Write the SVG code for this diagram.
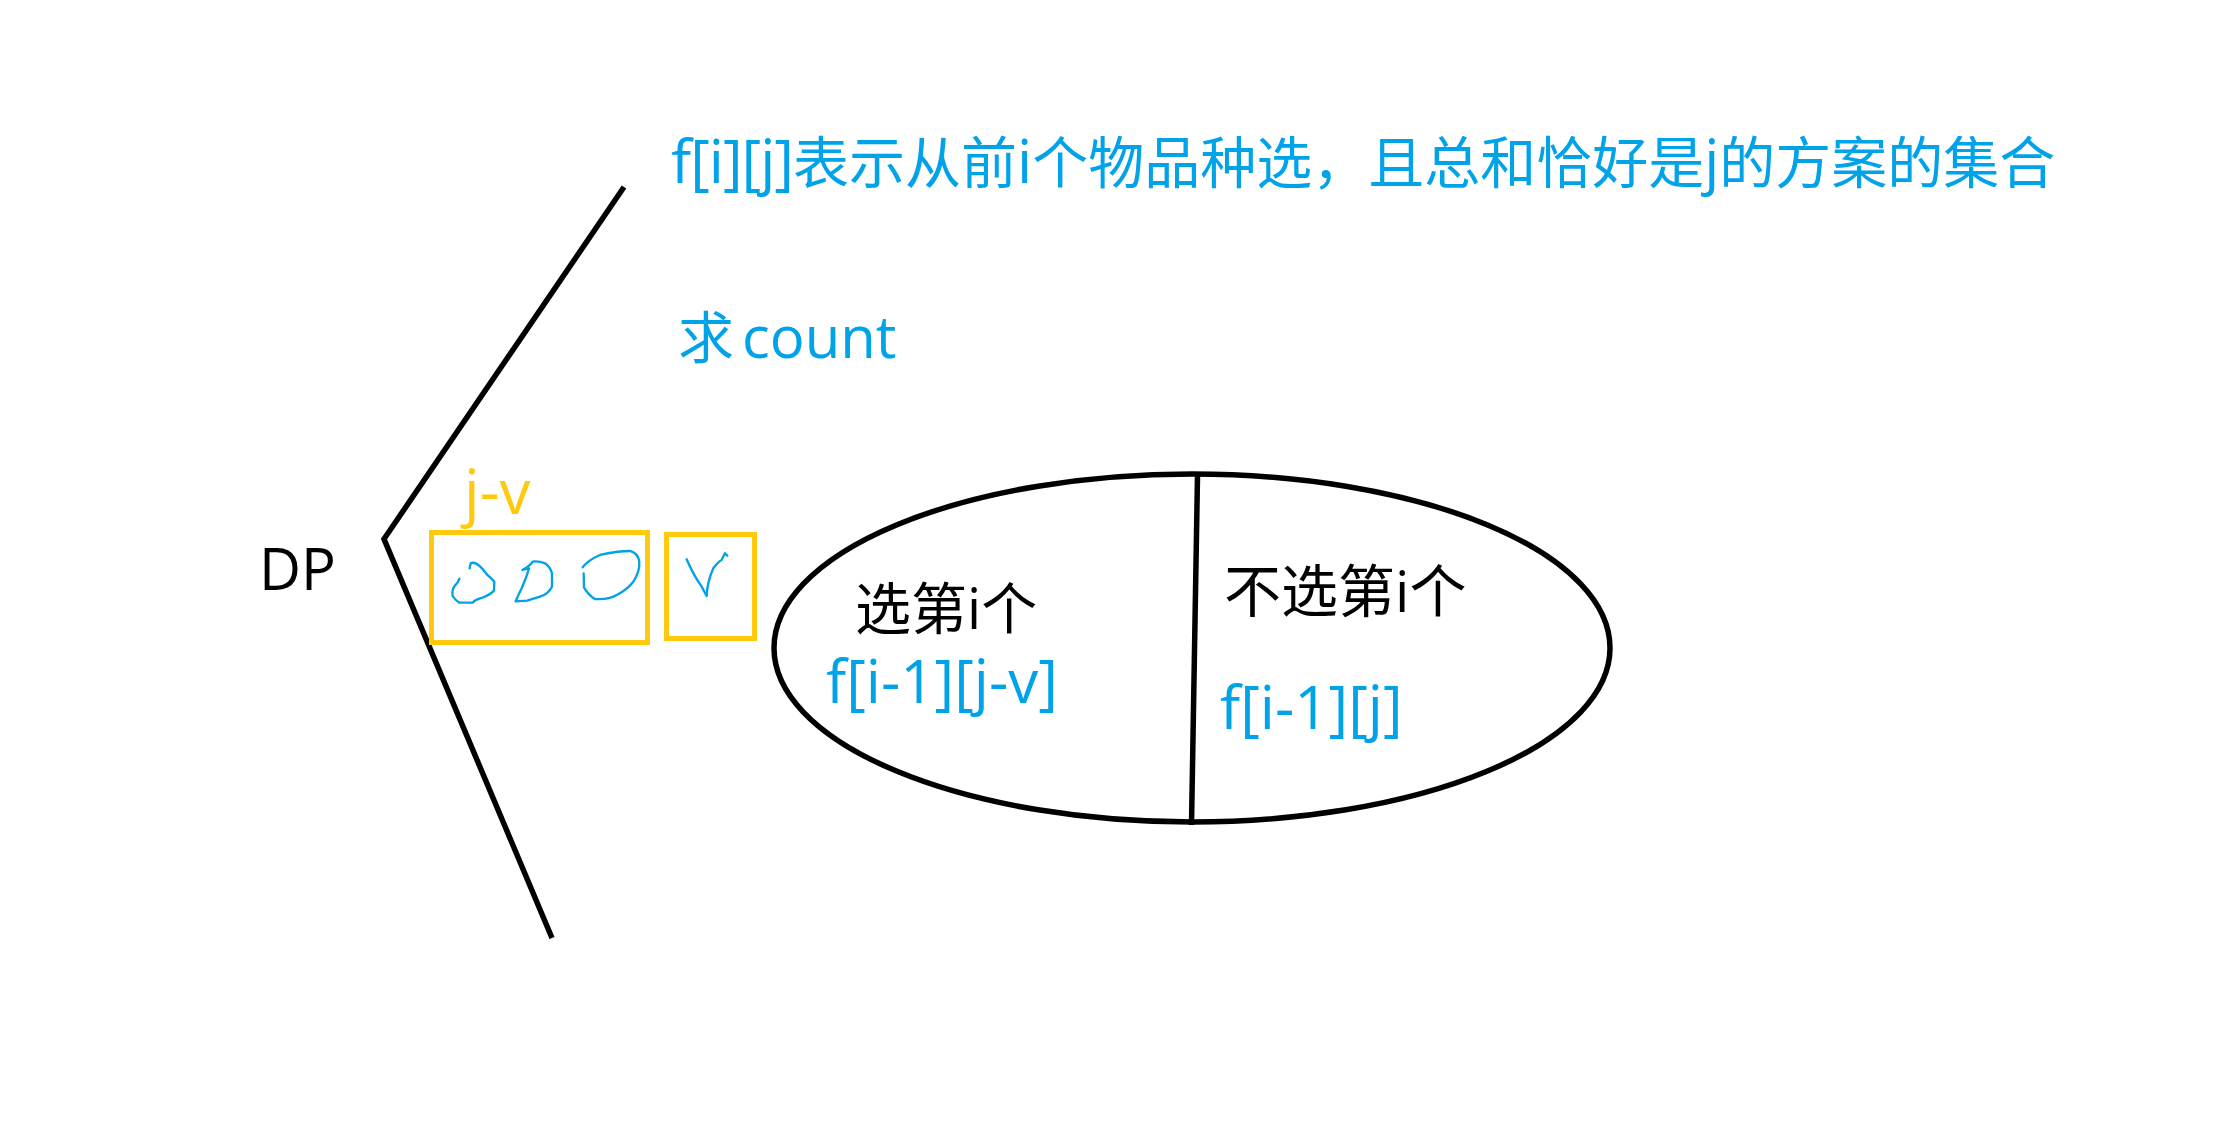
<svg xmlns="http://www.w3.org/2000/svg" width="2234" height="1123" viewBox="0 0 2234 1123">
<style>
text{font-family:"Open Sans","Noto Sans CJK SC",sans-serif;font-size:56px}
.t{font-size:60px}
.b{fill:#00a2e8}.k{fill:#000}.y{fill:#ffc90e}
.l{fill:none;stroke:#000;stroke-width:5.500}
.r{fill:none;stroke:#ffc90e;stroke-width:5}
.s{fill:none;stroke:#00a2e8;stroke-width:7;stroke-linejoin:round;stroke-linecap:round}
</style>
<rect width="2234" height="1123" fill="#fff"/>
<g id="connectors">
<polyline class="l" points="624,187 384,539 552,938"/>
</g>
<g id="dp"><text class="k" x="259" y="590" style="font-size:58px">DP</text></g>
<g id="title"><text class="b" x="671" y="183"><tspan class="t" letter-spacing="-1">f[i][j]</tspan>表示从前<tspan class="t">i</tspan>个物品种选，且总和恰好是<tspan class="t">j</tspan>的方案的集合</text></g>
<g id="count"><text class="b" x="678" y="358">求<tspan x="742" style="font-size:58px">count</tspan></text></g>
<g id="jv">
<text class="y" x="464" y="514" style="font-size:62px">j-v</text>
<rect class="r" x="431.500" y="532.500" width="216" height="110"/>
<g transform="translate(400,460) scale(.3333)">
<path class="s" d="M178,356 Q175,368 164,378 Q155,390 158,408 Q165,420 178,428 L218,428 Q225,420 245,414 Q270,405 282,392 L283,365 Q270,352 262,345 Q245,322 235,315 Q222,305 212,310 L209,325"/>
<path class="s" d="M347,424 L382,422 Q400,416 420,410 Q445,402 456,380 L456,340 Q450,320 435,310 Q415,302 398,305 Q390,318 367,330 L387,325 Q380,350 365,385 Q355,405 347,424"/>
<path class="s" d="M548,322 Q565,300 600,285 Q650,273 690,273 Q715,280 718,305 Q720,335 700,365 Q680,390 650,405 Q625,420 585,417 Q565,405 552,382 L551,340"/>
</g>
</g>
<g id="v">
<rect class="r" x="666.500" y="534.500" width="88" height="104"/>
<path class="s" transform="translate(400,460) scale(.3333)" d="M860,298 Q880,345 905,380 L920,408 Q922,365 940,325 Q955,305 965,300 L975,280 L982,287"/>
</g>
<g id="set">
<ellipse class="l" cx="1192" cy="648" rx="418" ry="174"/>
<line class="l" x1="1201" y1="476" x2="1195" y2="825" transform="translate(-3.500,0)"/>
<text class="k" x="855" y="629">选第i个</text>
<text class="b t" x="826" y="703">f[i-1][j-v]</text>
<text class="k" x="1224" y="612" style="font-size:57px">不选第i个</text>
<text class="b t" x="1220" y="729">f[i-1][j]</text>
</g>
</svg>
